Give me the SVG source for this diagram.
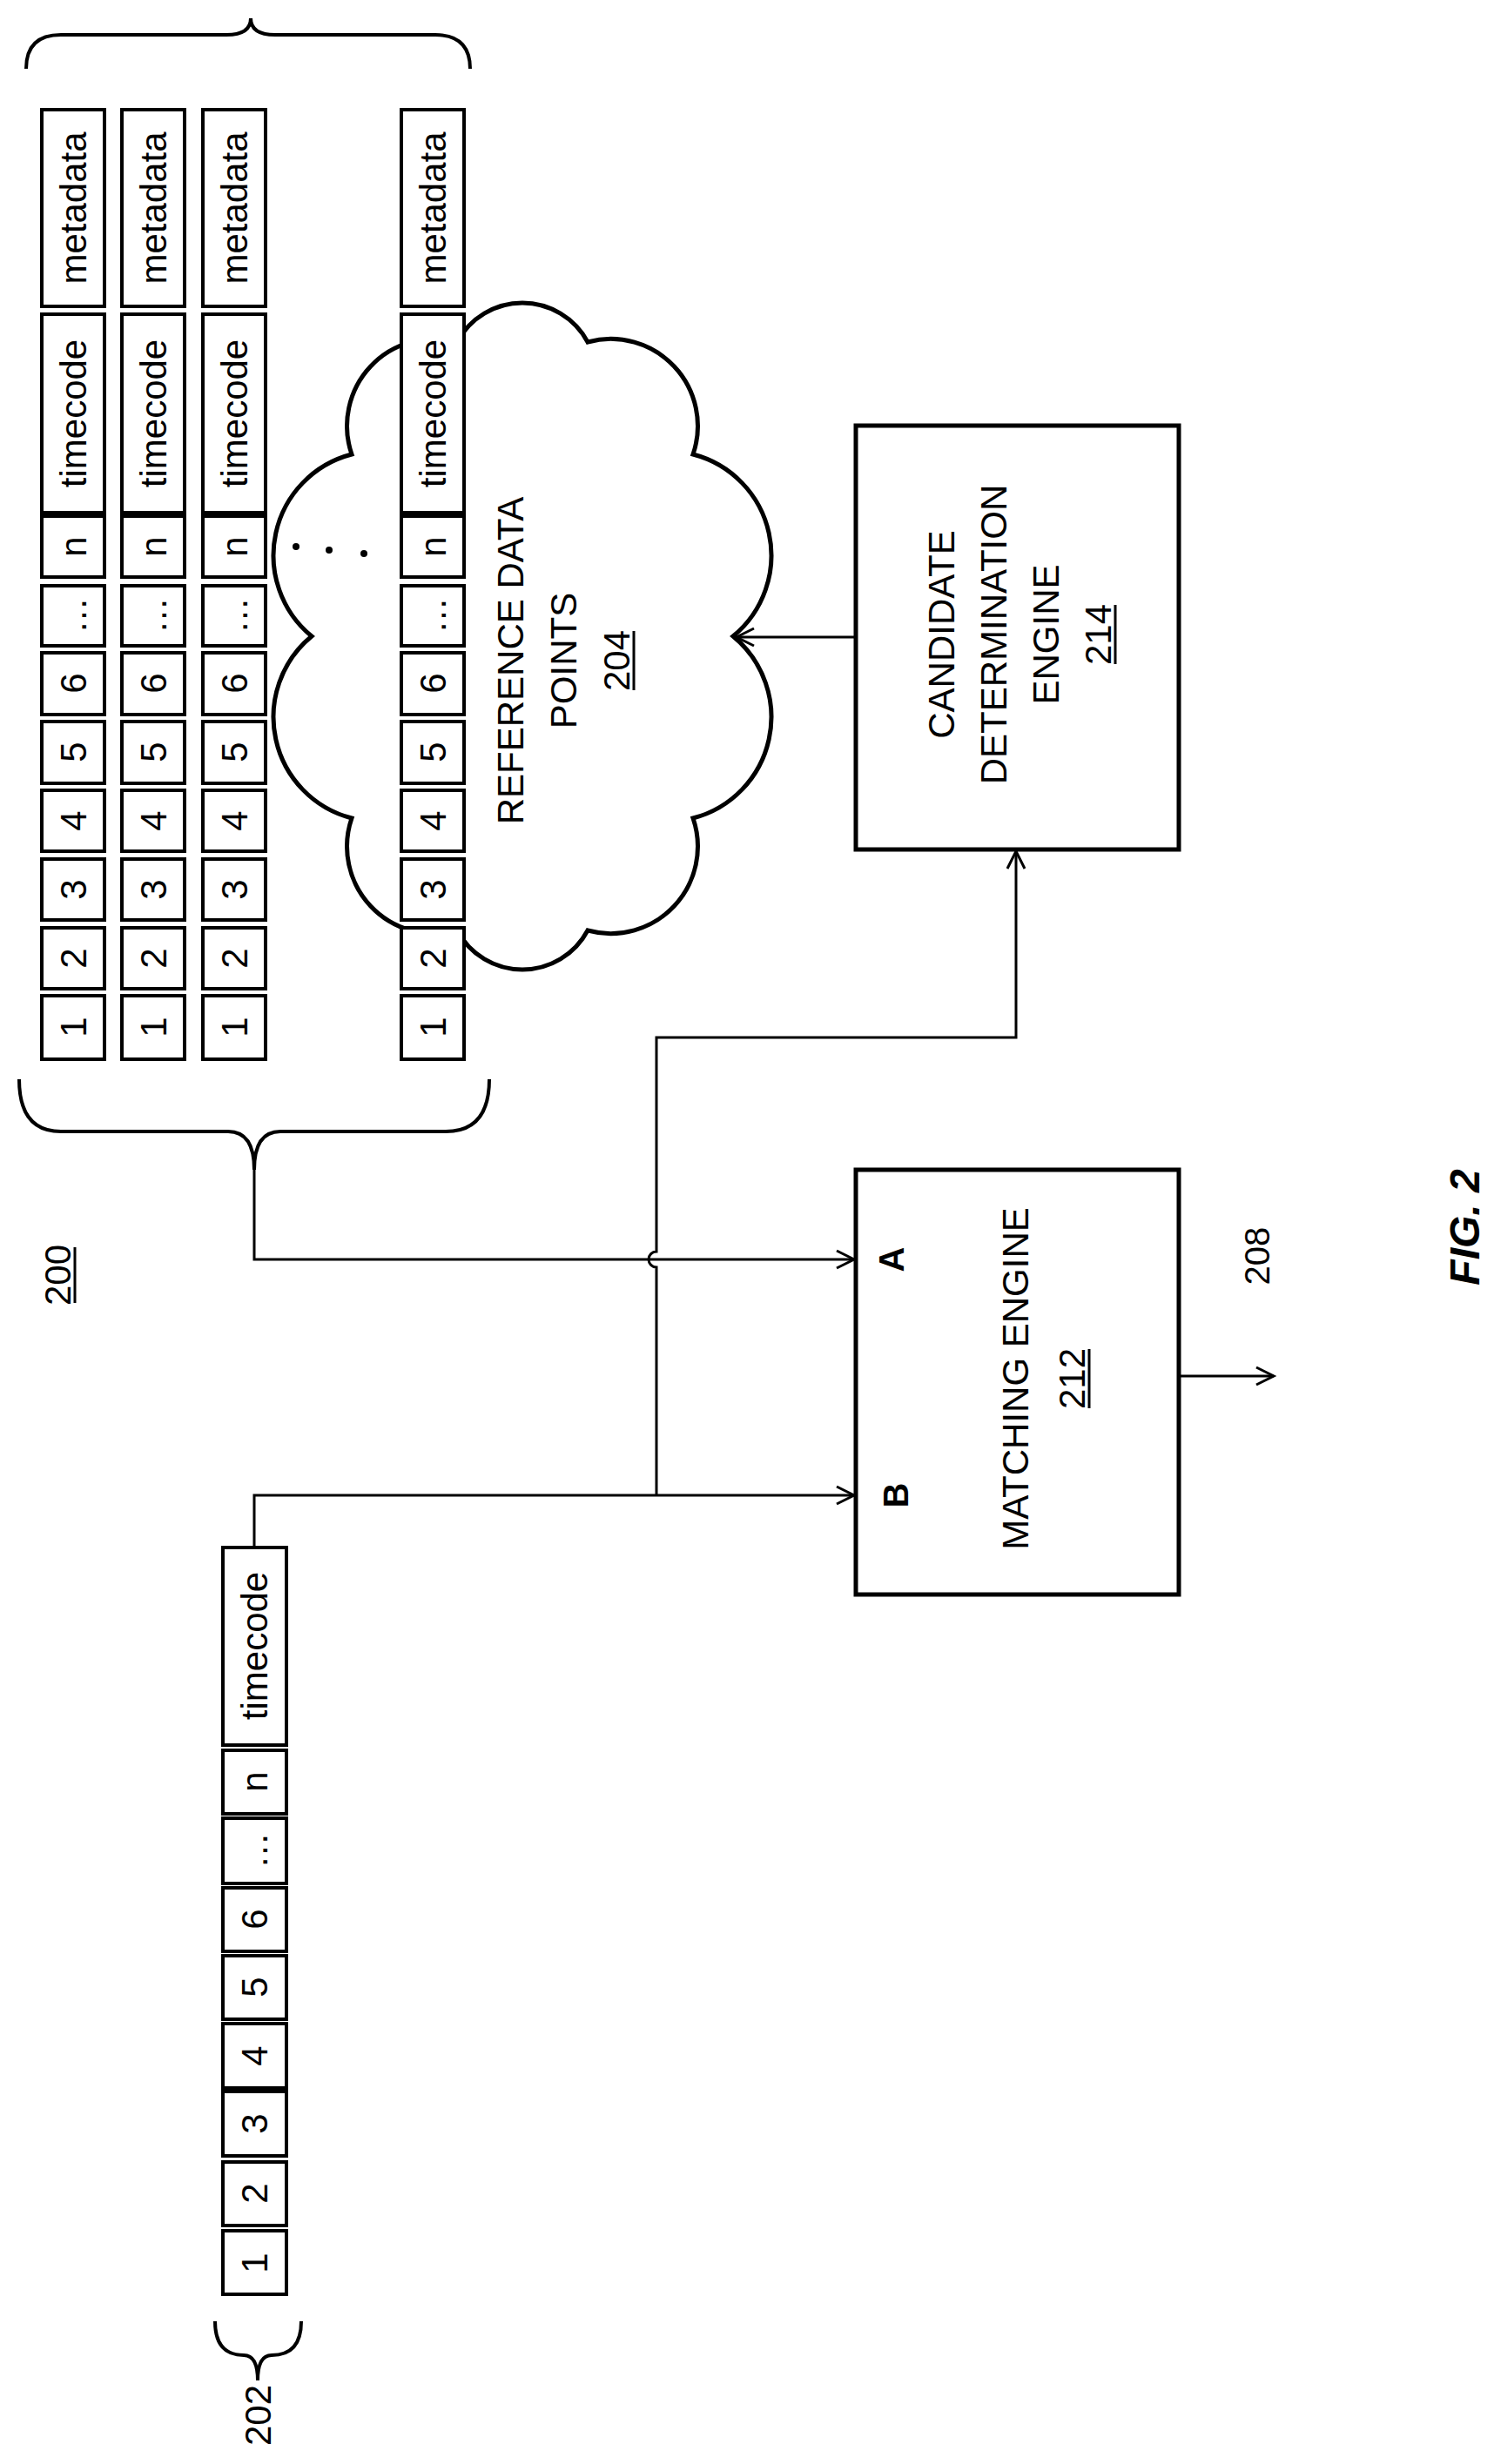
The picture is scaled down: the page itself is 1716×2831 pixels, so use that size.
<svg xmlns="http://www.w3.org/2000/svg" width="1716" height="2831" viewBox="0 0 1716 2831">
<style>
text{font-family:"Liberation Sans",Arial,sans-serif;fill:#000;text-anchor:middle;dominant-baseline:central}
.c{fill:#fff;stroke:#000;stroke-width:4}
.t{font-size:42px}
.b{fill:#fff;stroke:#000;stroke-width:5}
.ln{fill:none;stroke:#000;stroke-width:3}
.br{fill:none;stroke:#000;stroke-width:4}
.u{stroke:#000;stroke-width:3}
</style>
<defs>
<marker id="ah" markerUnits="userSpaceOnUse" markerWidth="30" markerHeight="30" refX="22" refY="12" orient="auto"><path d="M2,2 L22,12 L2,22" fill="none" stroke="#000" stroke-width="3"/></marker>
<g id="rec">
<rect class="c" x="0" y="126" width="72" height="226"/>
<rect class="c" x="0" y="361" width="72" height="228"/>
<rect class="c" x="0" y="593" width="72" height="70"/>
<rect class="c" x="0" y="673" width="72" height="69"/>
<rect class="c" x="0" y="750" width="72" height="71"/>
<rect class="c" x="0" y="829" width="72" height="71"/>
<rect class="c" x="0" y="908" width="72" height="70"/>
<rect class="c" x="0" y="987" width="72" height="70"/>
<rect class="c" x="0" y="1066" width="72" height="70"/>
<rect class="c" x="0" y="1144" width="72" height="73"/>
<g class="t">
<text transform="translate(36,239) rotate(-90)">metadata</text>
<text transform="translate(36,475) rotate(-90)">timecode</text>
<text transform="translate(36,628) rotate(-90)">n</text>
<text transform="translate(36,707) rotate(-90)">…</text>
<text transform="translate(36,785) rotate(-90)">6</text>
<text transform="translate(36,864) rotate(-90)">5</text>
<text transform="translate(36,943) rotate(-90)">4</text>
<text transform="translate(36,1022) rotate(-90)">3</text>
<text transform="translate(36,1101) rotate(-90)">2</text>
<text transform="translate(36,1180) rotate(-90)">1</text>
</g>
</g>
</defs>
<g id="cloud204">
<path class="b" stroke-width="4" d="M842,731 A120,120 0 0 1 796,940 A100,100 0 0 1 675,1069 A85,85 0 0 1 525,1069 A100,100 0 0 1 404,940 A120,120 0 0 1 358,731 A120,120 0 0 1 404,522 A100,100 0 0 1 525,393 A85,85 0 0 1 675,393 A100,100 0 0 1 796,522 A120,120 0 0 1 842,731 Z"/>
<text class="t" font-size="40" transform="translate(586,759) rotate(-90)">REFERENCE DATA</text>
<text class="t" font-size="40" transform="translate(647,759) rotate(-90)">POINTS</text>
<text class="t" font-size="40" transform="translate(708,759) rotate(-90)">204</text>
<line class="u" x1="728" y1="725" x2="728" y2="793"/>
</g>
<g id="records204">
<use href="#rec" x="48"/>
<use href="#rec" x="140"/>
<use href="#rec" x="233"/>
<use href="#rec" x="461"/>
<circle cx="340" cy="628" r="4"/><circle cx="378" cy="632" r="4"/><circle cx="418" cy="636" r="4"/>
<path class="br" d="M30,79 Q30,40 70,40 L260,40 Q288,40 288,21 Q288,40 316,40 L500,40 Q540,40 540,79"/>
<path class="br" d="M22,1240 Q22,1300 70,1300 L262,1300 Q292,1300 292,1344 Q292,1300 322,1300 L512,1300 Q562,1300 562,1240"/>
</g>
<g id="query202">
<rect class="c" x="256" y="1778" width="73" height="227"/>
<rect class="c" x="256" y="2011" width="73" height="73"/>
<rect class="c" x="256" y="2089" width="73" height="75"/>
<rect class="c" x="256" y="2169" width="73" height="73"/>
<rect class="c" x="256" y="2247" width="73" height="73"/>
<rect class="c" x="256" y="2325" width="73" height="74"/>
<rect class="c" x="256" y="2403" width="73" height="74"/>
<rect class="c" x="256" y="2484" width="73" height="73"/>
<rect class="c" x="256" y="2563" width="73" height="73"/>
<g class="t">
<text transform="translate(292,1891) rotate(-90)">timecode</text>
<text transform="translate(292,2047) rotate(-90)">n</text>
<text transform="translate(292,2126) rotate(-90)">…</text>
<text transform="translate(292,2205) rotate(-90)">6</text>
<text transform="translate(292,2283) rotate(-90)">5</text>
<text transform="translate(292,2362) rotate(-90)">4</text>
<text transform="translate(292,2440) rotate(-90)">3</text>
<text transform="translate(292,2520) rotate(-90)">2</text>
<text transform="translate(292,2600) rotate(-90)">1</text>
</g>
<path class="br" d="M247,2667 Q247,2706 280,2706 Q296,2706 296,2735 Q296,2706 312,2706 Q346,2706 346,2667"/>
<text class="t" font-size="40" transform="translate(296,2775) rotate(-90)">202</text>
</g>
<g id="label200">
<text class="t" font-size="40" transform="translate(66,1465) rotate(-90)">200</text>
<line class="u" x1="86" y1="1433" x2="86" y2="1497"/>
</g>
<g id="matching212">
<rect class="b" x="983" y="1344" width="371" height="488"/>
<text font-size="40" font-weight="bold" transform="translate(1024,1447) rotate(-90)">A</text>
<text font-size="40" font-weight="bold" transform="translate(1029,1718) rotate(-90)">B</text>
<text class="t" font-size="40" transform="translate(1166,1584) rotate(-90)">MATCHING ENGINE</text>
<text class="t" font-size="40" transform="translate(1231,1584) rotate(-90)">212</text>
<line class="u" x1="1251" y1="1550" x2="1251" y2="1618"/>
</g>
<g id="candidate214">
<rect class="b" x="983" y="489" width="371" height="487"/>
<text class="t" font-size="40" transform="translate(1081,729) rotate(-90)">CANDIDATE</text>
<text class="t" font-size="40" transform="translate(1141,729) rotate(-90)">DETERMINATION</text>
<text class="t" font-size="40" transform="translate(1201,729) rotate(-90)">ENGINE</text>
<text class="t" font-size="40" transform="translate(1261,729) rotate(-90)">214</text>
<line class="u" x1="1281" y1="695" x2="1281" y2="763"/>
</g>
<g id="labels">
<text font-size="40" transform="translate(1444,1443) rotate(-90)">208</text>
<text font-size="48" font-weight="bold" font-style="italic" transform="translate(1682,1410) rotate(-90)">FIG. 2</text>
</g>
<g id="connectors">
<path class="ln" d="M292,1344 L292,1447 L981,1447" marker-end="url(#ah)"/>
<path class="ln" d="M292,1778 L292,1718 L981,1718" marker-end="url(#ah)"/>
<path class="ln" d="M754,1718 L754,1456 A9,9 0 0 1 754,1438 L754,1192 L1167,1192 L1167,978" marker-end="url(#ah)"/>
<path class="ln" d="M983,732 L846,732" marker-end="url(#ah)"/>
<path class="ln" d="M1354,1581 L1463,1581" marker-end="url(#ah)"/>
</g>
</svg>
